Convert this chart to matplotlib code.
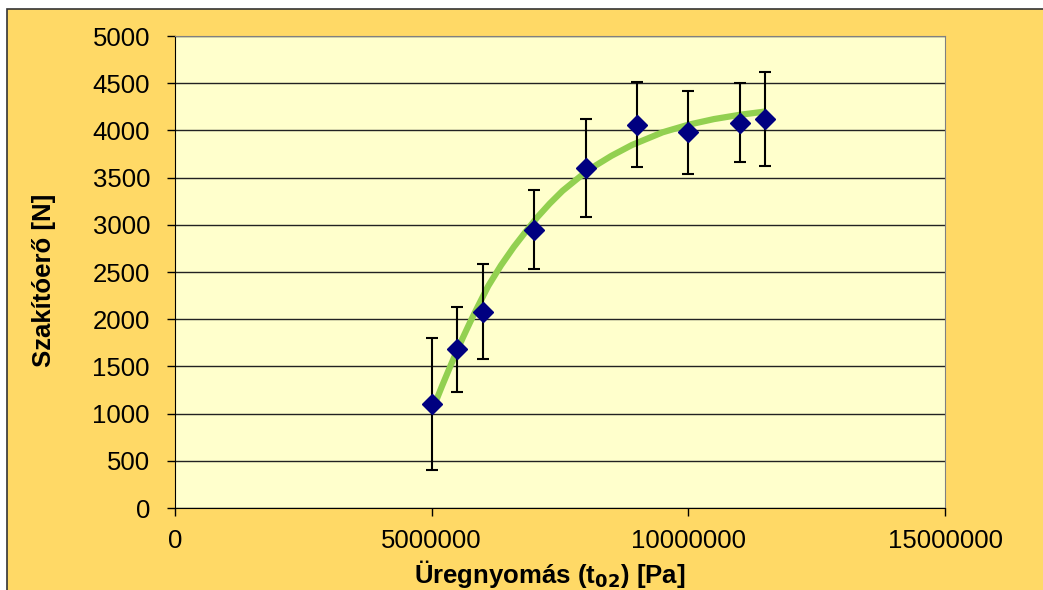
import matplotlib.pyplot as plt
from matplotlib.patches import Rectangle

plt.rcParams['font.family'] = ['Liberation Sans', 'DejaVu Sans']

# data
pressure = [5000000, 5500000, 6000000, 7000000, 8000000, 9000000, 10000000, 11000000, 11500000]
force = [1100, 1680, 2080, 2950, 3600, 4060, 3980, 4080, 4120]
force_err = [700, 450, 500, 420, 520, 450, 440, 420, 500]

# trendline
trend_x = [5.0e6, 5.2e6, 5.35e6, 5.5e6, 5.6e6, 5.75e6, 5.9e6, 6.1e6, 6.35e6, 6.6e6, 6.85e6,
           7.05e6, 7.3e6, 7.55e6, 7.9e6, 8.2e6, 8.5e6, 8.9e6, 9.5e6, 10.0e6, 10.5e6, 11.0e6, 11.5e6]
trend_y = [1020, 1290, 1485, 1675, 1795, 1970, 2135, 2350, 2570, 2765, 2940,
           3075, 3225, 3360, 3515, 3630, 3730, 3845, 3980, 4060, 4120, 4165, 4200]

xticks = [0, 5000000, 10000000, 15000000]
yticks = list(range(0, 5001, 500))

fig = plt.figure(figsize=(10.43, 5.90), dpi=100)
fig.patch.set_facecolor('white')
# outer chart frame
fig.patches.append(Rectangle((7 / 1043, -0.1), 1.1, 1 - 9 / 590 + 0.1,
                             transform=fig.transFigure, facecolor='#FFD966',
                             edgecolor='#333333', linewidth=1.2, zorder=-5))

ax = fig.add_axes([175 / 1043, 1 - 508 / 590, 770 / 1043, 472 / 590])
ax.set_zorder(1)
ax.set_facecolor('#FFFFCC')

ax.plot(trend_x, trend_y, color='#92D050', lw=4.5, zorder=2,
        solid_capstyle='butt', solid_joinstyle='round')

ax.errorbar(pressure, force, yerr=force_err, fmt='D', color='#000080', ms=10,
            ecolor='black', elinewidth=1.5, capsize=4.5, capthick=1.5, zorder=3)

ax.set_xlim(0, 15000000)
ax.set_ylim(0, 5000)
ax.set_xticks(xticks)
ax.set_xticklabels([str(t) for t in xticks])
ax.set_yticks(yticks)
ax.grid(axis='y', color='#222222', lw=1)
ax.set_axisbelow(True)
ax.tick_params(direction='out', length=6, width=1, labelsize=18.5, colors='black')
ax.tick_params(axis='y', pad=12)
ax.tick_params(axis='x', pad=9)

for s in ['top', 'right']:
    ax.spines[s].set_color('#808080')
for s in ['left', 'bottom']:
    ax.spines[s].set_color('black')

ax.set_xlabel('Üregnyomás (t$_{\\mathbf{02}}$) [Pa]', fontsize=18.5, fontweight='bold', labelpad=4)
ax.set_ylabel('Szakítóerő [N]', fontsize=18.5, fontweight='bold', labelpad=26)
ax.xaxis.label.set_x(0.487)
ax.yaxis.label.set_y(0.483)

fig.savefig('out.png', dpi=100, facecolor=fig.get_facecolor())
